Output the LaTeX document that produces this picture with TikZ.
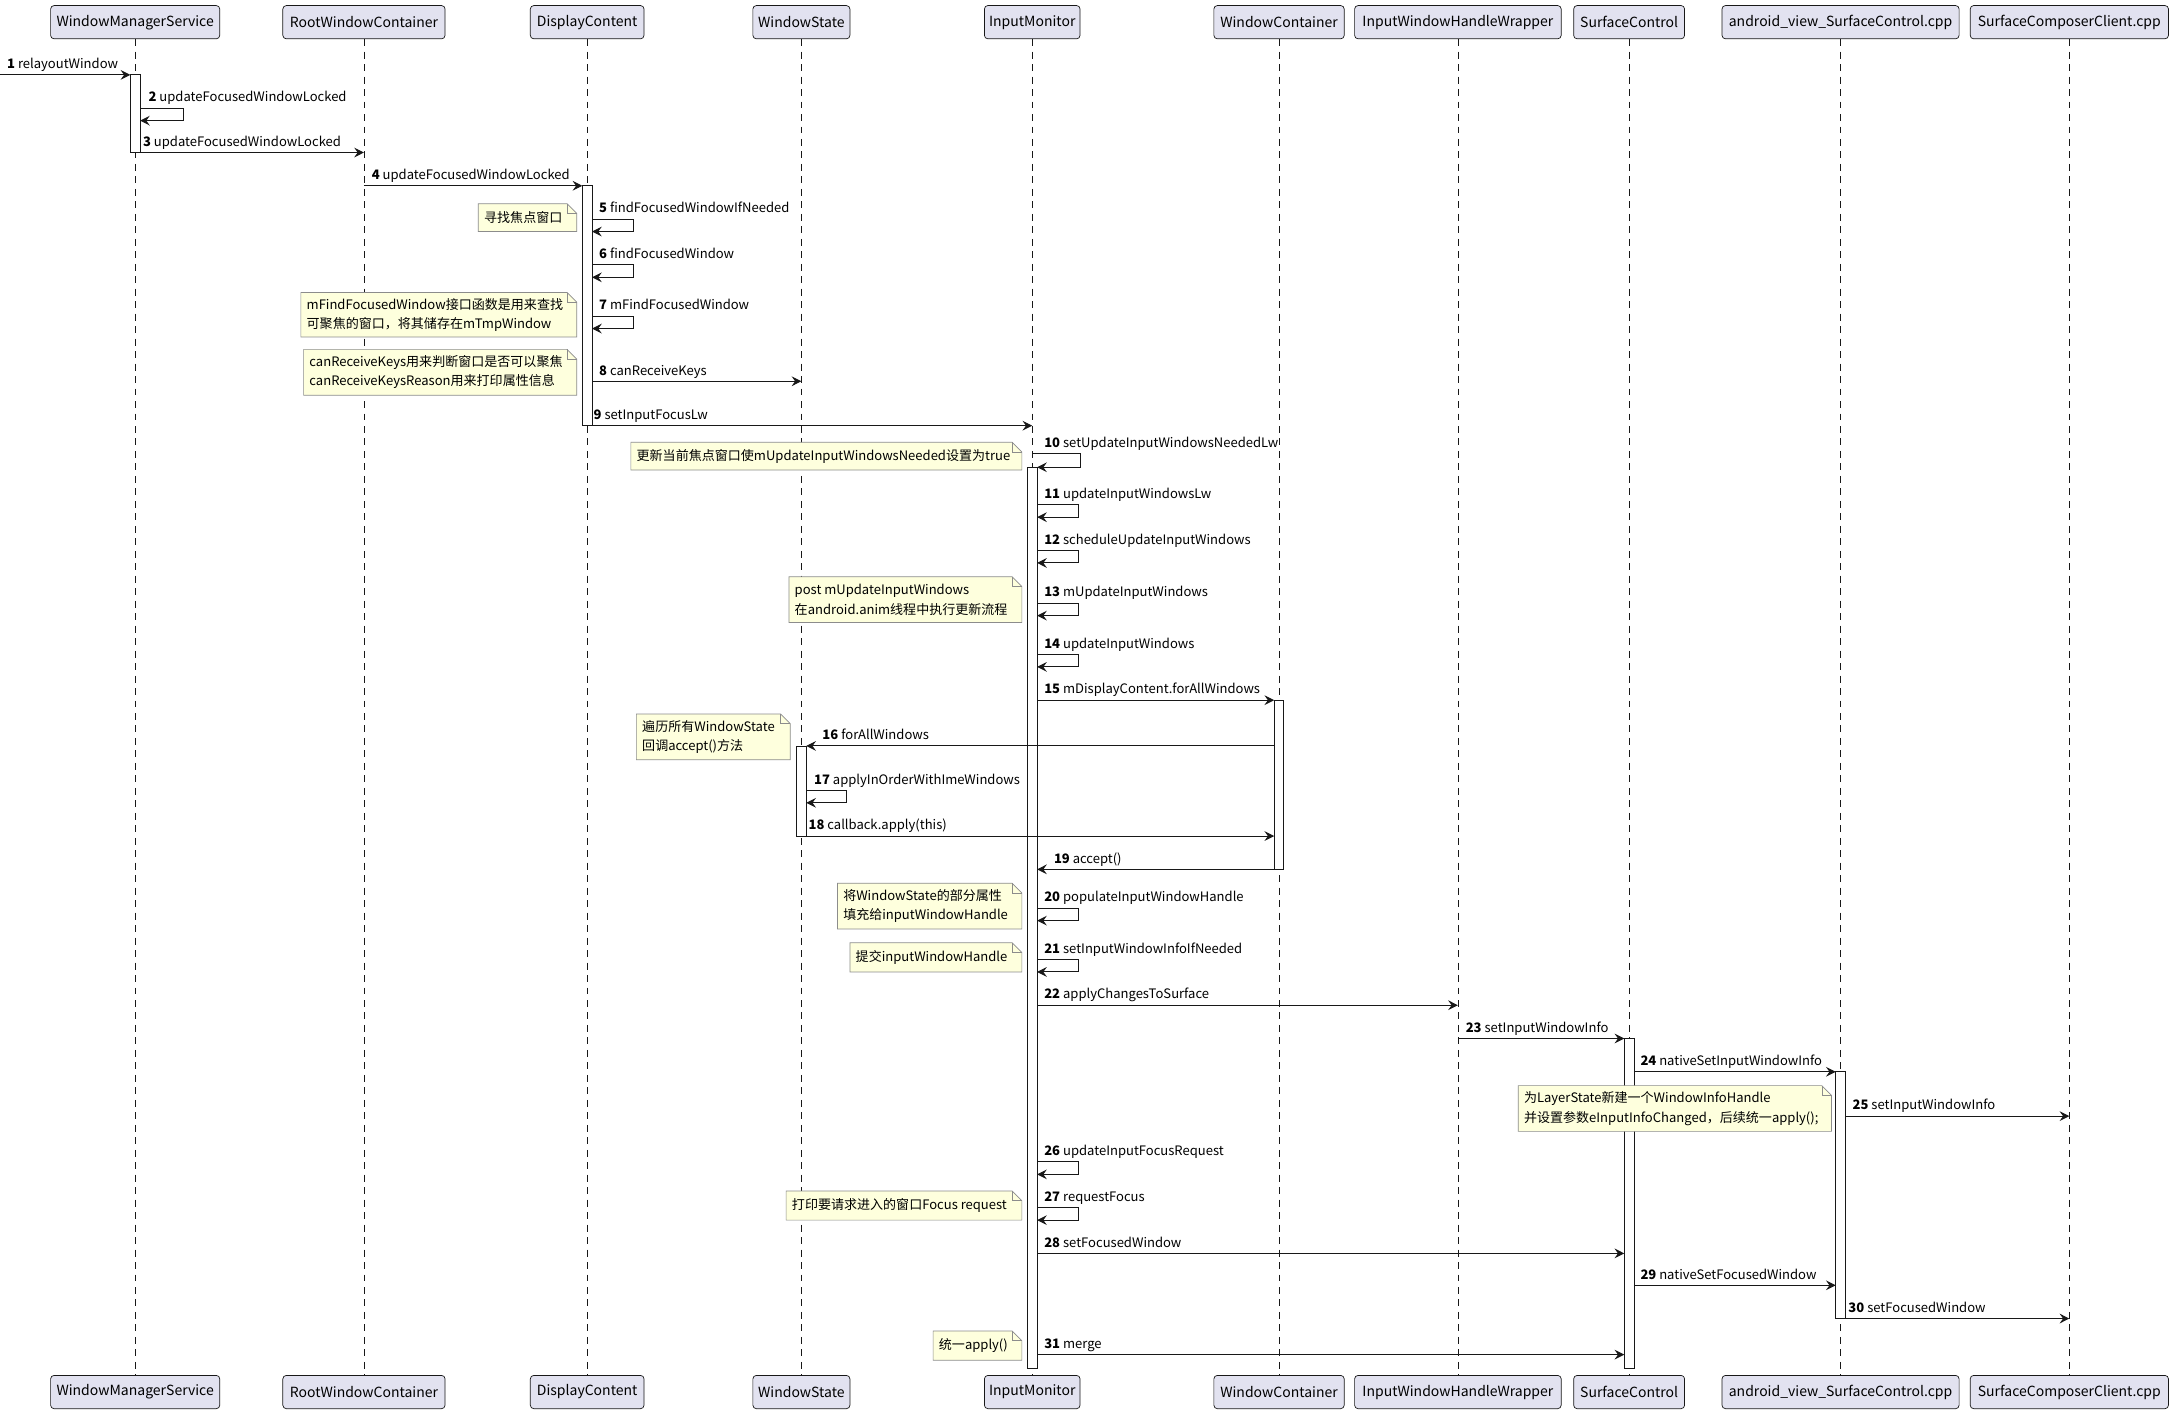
\documentclass[tikz,border=0pt]{standalone}
\usepackage{fontspec}
\setmainfont{Noto Sans CJK SC}
\usetikzlibrary{arrows.meta,calc}
\definecolor{partfill}{HTML}{E2E2F0}
\definecolor{ink}{HTML}{181818}
\definecolor{notefill}{HTML}{FEFFDD}
\definecolor{noteline}{HTML}{8C8C8C}
\newcommand\notebox[6]{%
  \draw[draw=noteline, fill=notefill, line width=0.5pt] (#2,#3) -- (#4-7,#3) -- (#4,#3+7) -- (#4,#5) -- (#2,#5) -- cycle;
  \draw[draw=noteline, line width=0.5pt] (#4-7,#3) -- (#4-7,#3+7) -- (#4,#3+7);
  \node[notetxt] (#1) at (#2+4,{(#3+#5)/2}) {#6};
}
\begin{document}
\begin{tikzpicture}[x=1pt,y=-1pt,
  font=\fontsize{9.4}{14}\selectfont,
  part/.style={draw=ink, fill=partfill, rounded corners=2.5pt, minimum height=24pt, inner sep=0pt, line width=0.5pt, font=\fontsize{10.1}{12}\selectfont},
  life/.style={draw=ink, line width=0.45pt, dash pattern=on 5pt off 4pt},
  act/.style={draw=ink, fill=white, minimum width=7pt, inner sep=0pt, outer sep=0pt, line width=0.6pt},
  msg/.style={draw=ink, line width=0.7pt, -{Stealth[length=7pt,width=7pt,inset=2.5pt]}},
  lbl/.style={anchor=base west, inner sep=0pt},
  notetxt/.style={anchor=west, inner sep=0pt, align=left}]
\useasboundingbox[fill=white] (0,0) rectangle (1568,1020);
% participants top
\node[part, minimum width=122pt] (pWMS) at (97.5,16) {WindowManagerService};
\node[part, minimum width=117pt] (pRWC) at (262.5,16) {RootWindowContainer};
\node[part, minimum width=82pt] (pDC) at (423.5,16) {DisplayContent};
\node[part, minimum width=70pt] (pWS) at (578,16) {WindowState};
\node[part, minimum width=69pt] (pIM) at (744.5,16) {InputMonitor};
\node[part, minimum width=94pt] (pWC) at (922.5,16) {WindowContainer};
\node[part, minimum width=149pt] (pIW) at (1051.5,16) {InputWindowHandleWrapper};
\node[part, minimum width=80pt] (pSC) at (1175,16) {SurfaceControl};
\node[part, minimum width=171pt] (pAV) at (1327.5,16) {android\_view\_SurfaceControl.cpp};
\node[part, minimum width=143pt] (pSCC) at (1492.5,16) {SurfaceComposerClient.cpp};
% participants bottom
\node[part, minimum width=122pt] (qWMS) at (97.5,1004) {WindowManagerService};
\node[part, minimum width=117pt] (qRWC) at (262.5,1004) {RootWindowContainer};
\node[part, minimum width=82pt] (qDC) at (423.5,1004) {DisplayContent};
\node[part, minimum width=70pt] (qWS) at (578,1004) {WindowState};
\node[part, minimum width=69pt] (qIM) at (744.5,1004) {InputMonitor};
\node[part, minimum width=94pt] (qWC) at (922.5,1004) {WindowContainer};
\node[part, minimum width=149pt] (qIW) at (1051.5,1004) {InputWindowHandleWrapper};
\node[part, minimum width=80pt] (qSC) at (1175,1004) {SurfaceControl};
\node[part, minimum width=171pt] (qAV) at (1327.5,1004) {android\_view\_SurfaceControl.cpp};
\node[part, minimum width=143pt] (qSCC) at (1492.5,1004) {SurfaceComposerClient.cpp};
% lifelines
\foreach \n in {WMS,RWC,DC,WS,IM,WC,IW,SC,AV,SCC} {\draw[life] (p\n.south) -- (q\n.north);}
% activations
\node[act, minimum height=56pt] (aWMS) at (97.5,82) {};
\node[act, minimum height=173pt] (aDC) at (423.5,220.5) {};
\node[act, minimum height=650pt] (aIM) at (744.5,662) {};
\node[act, minimum height=122pt] (aWC) at (922.5,566) {};
\node[act, minimum height=65pt] (aWS) at (578,570.5) {};
\node[act, minimum height=238pt] (aSC) at (1175,868) {};
\node[act, minimum height=178pt] (aAV) at (1327.5,862) {};
% messages
\coordinate (src1) at (0,54);
\draw[msg] (src1) -- (aWMS.west |- src1);
\node[lbl] at (5,49.5) {\textbf{1} relayoutWindow};
\draw[msg] (aWMS.east |- 0,78) -- ++(31,0) -- ++(0,9) -- (aWMS.east |- 0,87);
\node[lbl] at (107,73.5) {\textbf{2} updateFocusedWindowLocked};
\draw[msg] (aWMS.west |- 0,110) -- (pRWC |- 0,110);
\node[lbl] at (103,105.5) {\textbf{3} updateFocusedWindowLocked};
\draw[msg] (pRWC |- 0,134) -- (aDC.west |- 0,134);
\node[lbl] at (268,129.5) {\textbf{4} updateFocusedWindowLocked};
\draw[msg] (aDC.east |- 0,158) -- ++(30,0) -- ++(0,9) -- (aDC.east |- 0,167);
\node[lbl] at (432,153.5) {\textbf{5} findFocusedWindowIfNeeded};
\draw[msg] (aDC.east |- 0,191) -- ++(30,0) -- ++(0,9) -- (aDC.east |- 0,200);
\node[lbl] at (432,186.5) {\textbf{6} findFocusedWindow};
\draw[msg] (aDC.east |- 0,228) -- ++(30,0) -- ++(0,9) -- (aDC.east |- 0,237);
\node[lbl] at (432,223.5) {\textbf{7} mFindFocusedWindow};
\draw[msg] (aDC.east |- 0,275) -- (pWS |- 0,275);
\node[lbl] at (432,270.5) {\textbf{8} canReceiveKeys};
\draw[msg] (aDC.west |- 0,307) -- (pIM |- 0,307);
\node[lbl] at (428,302.5) {\textbf{9} setInputFocusLw};
\draw[msg] (pIM |- 0,327) -- ++(35,0) -- ++(0,10) -- (aIM.east |- 0,337);
\node[lbl] at (753,322.5) {\textbf{10} setUpdateInputWindowsNeededLw};
\draw[msg] (aIM.east |- 0,364) -- ++(30,0) -- ++(0,9) -- (aIM.east |- 0,373);
\node[lbl] at (753,359.5) {\textbf{11} updateInputWindowsLw};
\draw[msg] (aIM.east |- 0,397) -- ++(30,0) -- ++(0,9) -- (aIM.east |- 0,406);
\node[lbl] at (753,392.5) {\textbf{12} scheduleUpdateInputWindows};
\draw[msg] (aIM.east |- 0,435) -- ++(30,0) -- ++(0,9) -- (aIM.east |- 0,444);
\node[lbl] at (753,430.5) {\textbf{13} mUpdateInputWindows};
\draw[msg] (aIM.east |- 0,472) -- ++(30,0) -- ++(0,9) -- (aIM.east |- 0,481);
\node[lbl] at (753,467.5) {\textbf{14} updateInputWindows};
\draw[msg] (aIM.east |- 0,505) -- (aWC.west |- 0,505);
\node[lbl] at (753,500.5) {\textbf{15} mDisplayContent.forAllWindows};
\draw[msg] (aWC.west |- 0,538) -- (aWS.east |- 0,538);
\node[lbl] at (593,533.5) {\textbf{16} forAllWindows};
\draw[msg] (aWS.east |- 0,570) -- ++(29,0) -- ++(0,9) -- (aWS.east |- 0,579);
\node[lbl] at (587,565.5) {\textbf{17} applyInOrderWithImeWindows};
\draw[msg] (aWS.west |- 0,603) -- (aWC.west |- 0,603);
\node[lbl] at (583,598.5) {\textbf{18} callback.apply(this)};
\draw[msg] (aWC.east |- 0,627) -- (aIM.east |- 0,627);
\node[lbl] at (760,622.5) {\textbf{19} accept()};
\draw[msg] (aIM.east |- 0,655) -- ++(30,0) -- ++(0,9) -- (aIM.east |- 0,664);
\node[lbl] at (753,650.5) {\textbf{20} populateInputWindowHandle};
\draw[msg] (aIM.east |- 0,692) -- ++(30,0) -- ++(0,9) -- (aIM.east |- 0,701);
\node[lbl] at (753,687.5) {\textbf{21} setInputWindowInfoIfNeeded};
\draw[msg] (aIM.east |- 0,725) -- (pIW |- 0,725);
\node[lbl] at (753,720.5) {\textbf{22} applyChangesToSurface};
\draw[msg] (pIW |- 0,749) -- (aSC.west |- 0,749);
\node[lbl] at (1057,744.5) {\textbf{23} setInputWindowInfo};
\draw[msg] (aSC.east |- 0,773) -- (aAV.west |- 0,773);
\node[lbl] at (1183,768.5) {\textbf{24} nativeSetInputWindowInfo};
\draw[msg] (aAV.east |- 0,805) -- (pSCC |- 0,805);
\node[lbl] at (1336,800.5) {\textbf{25} setInputWindowInfo};
\draw[msg] (aIM.east |- 0,838) -- ++(30,0) -- ++(0,9) -- (aIM.east |- 0,847);
\node[lbl] at (753,833.5) {\textbf{26} updateInputFocusRequest};
\draw[msg] (aIM.east |- 0,871) -- ++(30,0) -- ++(0,9) -- (aIM.east |- 0,880);
\node[lbl] at (753,866.5) {\textbf{27} requestFocus};
\draw[msg] (aIM.east |- 0,904) -- (aSC.west |- 0,904);
\node[lbl] at (753,899.5) {\textbf{28} setFocusedWindow};
\draw[msg] (aSC.east |- 0,927) -- (aAV.west |- 0,927);
\node[lbl] at (1183,922.5) {\textbf{29} nativeSetFocusedWindow};
\draw[msg] (aAV.west |- 0,951) -- (pSCC |- 0,951);
\node[lbl] at (1333,946.5) {\textbf{30} setFocusedWindow};
\draw[msg] (aIM.east |- 0,977) -- (aSC.west |- 0,977);
\node[lbl] at (753,972.5) {\textbf{31} merge};
% notes
\notebox{n5}{345}{147}{416}{167}{寻找焦点窗口}
\notebox{n7}{217}{211}{416}{243}{mFindFocusedWindow接口函数是用来查找\\可聚焦的窗口，将其储存在mTmpWindow}
\notebox{n8}{219}{252}{416}{285}{canReceiveKeys用来判断窗口是否可以聚焦\\canReceiveKeysReason用来打印属性信息}
\notebox{n10}{455}{319}{737}{339}{更新当前焦点窗口使mUpdateInputWindowsNeeded设置为true}
\notebox{n13}{569}{416}{737}{449}{post mUpdateInputWindows\\在android.anim线程中执行更新流程}
\notebox{n16}{459}{515}{570}{548}{遍历所有WindowState\\回调accept()方法}
\notebox{n20}{604}{637}{737}{670}{将WindowState的部分属性\\填充给inputWindowHandle}
\notebox{n21}{613}{680}{737}{701}{提交inputWindowHandle}
\notebox{n24}{1095}{783}{1321}{816}{为LayerState新建一个WindowInfoHandle\\并设置参数eInputInfoChanged，后续统一apply();}
\notebox{n27}{567}{859}{737}{880}{打印要请求进入的窗口Focus request}
\notebox{n31}{673}{960}{737}{981}{统一apply()}
\end{tikzpicture}
\end{document}
